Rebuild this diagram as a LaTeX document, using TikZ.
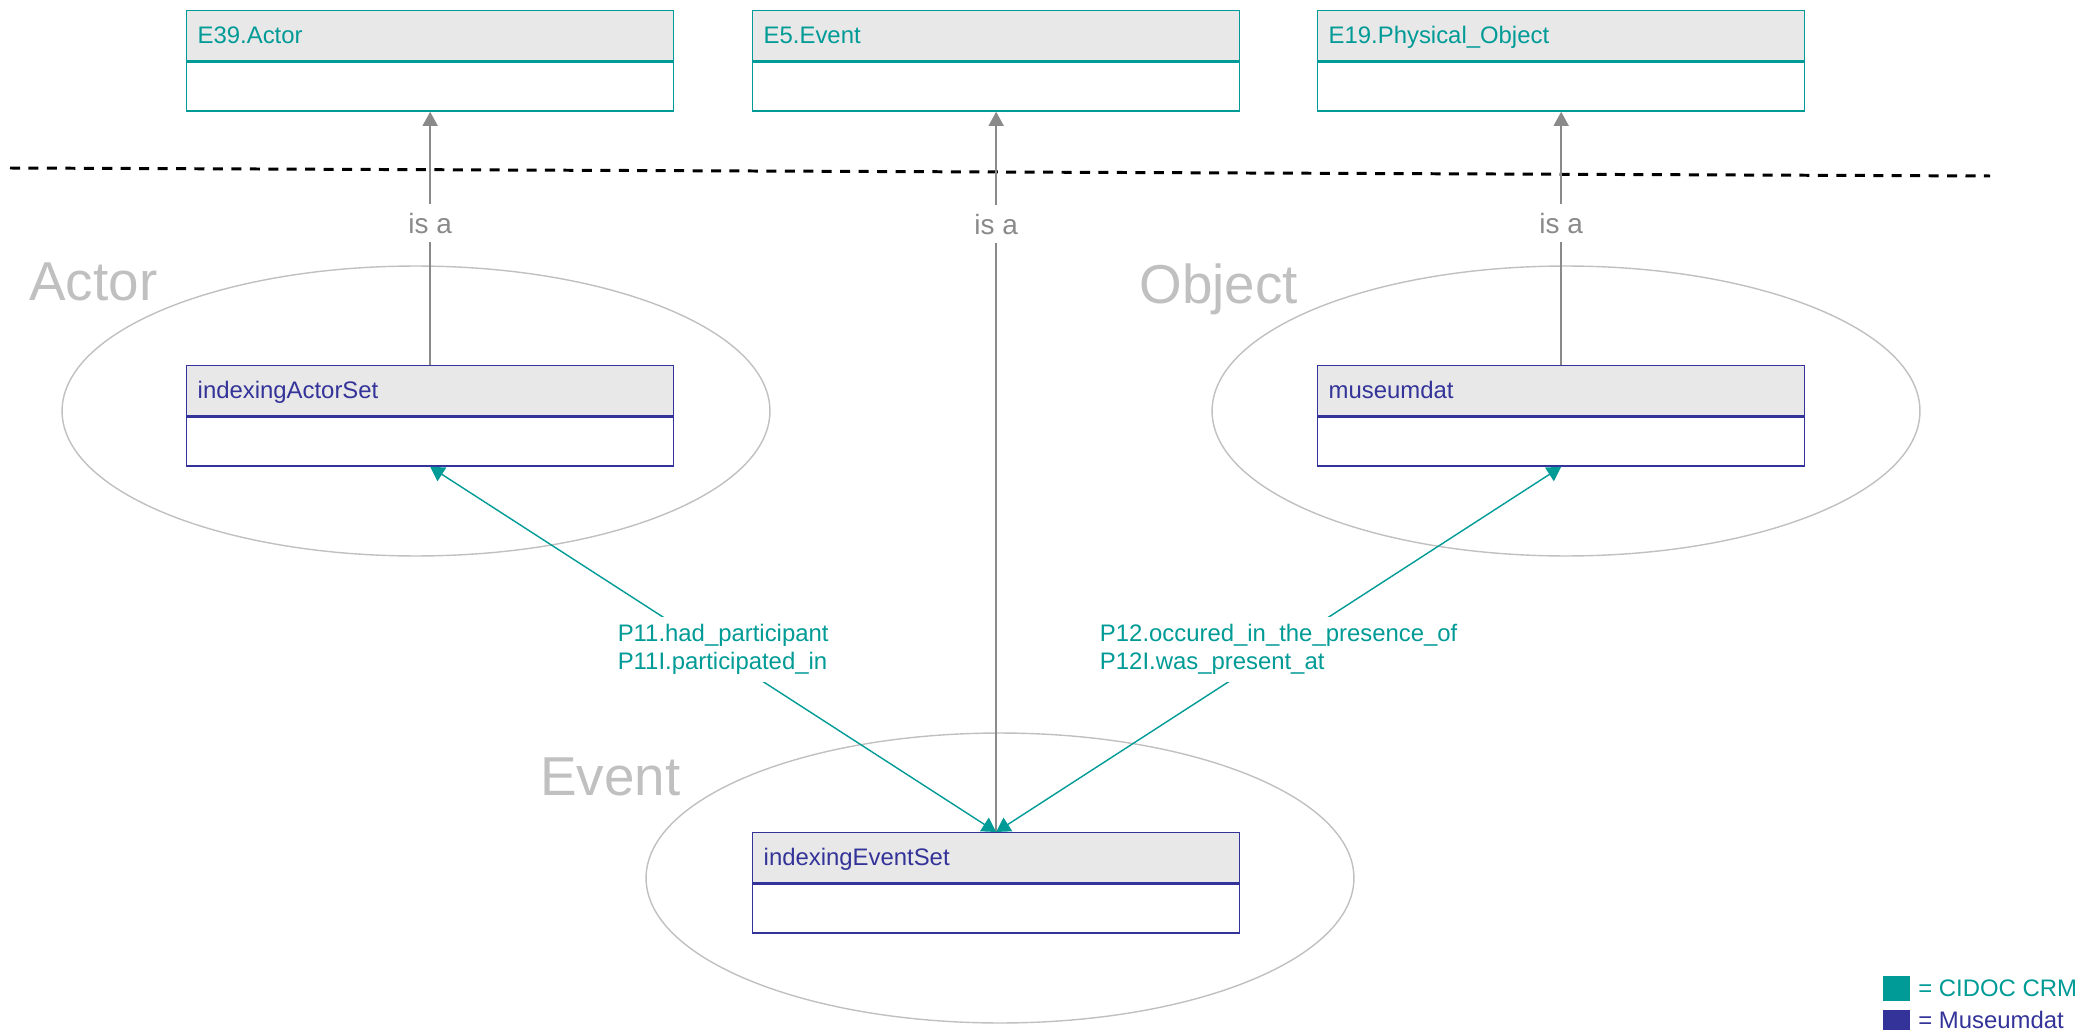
\documentclass[tikz,border=0pt]{standalone}
\usepackage{fontspec}
\setmainfont{Liberation Sans}
\usepackage{xcolor}
\usetikzlibrary{shapes.geometric}
\usetikzlibrary{arrows.meta}
\usetikzlibrary{positioning}

\definecolor{crmteal}{RGB}{0,155,150}
\definecolor{mdblue}{RGB}{51,51,153}
\definecolor{headgray}{RGB}{232,232,232}
\definecolor{isagray}{RGB}{138,138,138}
\definecolor{zonegray}{RGB}{192,192,192}

\tikzset{
    classhead/.style = {draw, fill = headgray, anchor = north west, minimum height = 1cm,
        text width = 9.30cm, inner xsep = 0.22cm, align = left, line width = 0.8pt,
        text height = 0.9em, text depth = 0.06em, font = \fontsize{13.6}{16}\selectfont},
    classbody/.style = {draw, fill = white, minimum width = 9.74cm, minimum height = 0.98cm,
        inner sep = 0pt, line width = 0.8pt},
    crmclass/.style = {draw = crmteal, text = crmteal},
    mdclass/.style = {draw = mdblue, text = mdblue},
    isa/.style = {draw = isagray, line width = 0.8pt, -{Triangle[length = 0.28cm, width = 0.3cm]}},
    isalabel/.style = {fill = white, text = isagray, inner xsep = 2pt, inner ysep = 0.17cm,
        font = \fontsize{15.9}{18}\selectfont},
    prop/.style = {draw = crmteal, line width = 0.8pt,
        {Triangle[length = 0.28cm, width = 0.32cm]}-{Triangle[length = 0.28cm, width = 0.32cm]}},
    proplabel/.style = {fill = white, text = crmteal, align = left, inner sep = 0.14cm,
        font = \fontsize{13.6}{15.9}\selectfont},
    zone/.style = {ellipse, draw = zonegray, line width = 0.8pt, minimum width = 14.16cm,
        minimum height = 5.8cm, inner sep = 0pt},
    zonelabel/.style = {text = zonegray, anchor = base west, inner sep = 0pt,
        font = \fontsize{31.2}{36}\selectfont},
    keybox/.style = {anchor = north west, minimum width = 0.54cm, minimum height = 0.5cm, inner sep = 0pt},
    keytext/.style = {anchor = base west, inner sep = 0pt, font = \fontsize{13.6}{16}\selectfont}
}

\begin{document}
\begin{tikzpicture}[x = 0.02cm, y = -0.02cm]
        \useasboundingbox (0, 0) rectangle (2084, 1030);

        \node[zone] (actorzone) at (416, 411) {};
        \node[zone] (objectzone) at (1566, 411) {};
        \node[zone] (eventzone) at (1000, 878) {};
        \node[zonelabel] (actorname) at (29, 300) {Actor};
        \node[zonelabel] (objectname) at (1139, 303) {Object};
        \node[zonelabel] (eventname) at (540, 795) {Event};

        \draw[line width = 1.7pt, dash pattern = on 5.7pt off 4.8pt] (10, 168) -- (1990, 176);

        \node[classhead, crmclass] (e39) at (186, 10) {E39.Actor};
        \node[classbody, crmclass, below = 0pt of e39] (e39b) {};
        \node[classhead, crmclass] (e5) at (752, 10) {E5.Event};
        \node[classbody, crmclass, below = 0pt of e5] (e5b) {};
        \node[classhead, crmclass] (e19) at (1317, 10) {E19.Physical\_Object};
        \node[classbody, crmclass, below = 0pt of e19] (e19b) {};

        \node[classhead, mdclass] (ias) at (186, 365) {indexingActorSet};
        \node[classbody, mdclass, below = 0pt of ias] (iasb) {};
        \node[classhead, mdclass] (mus) at (1317, 365) {museumdat};
        \node[classbody, mdclass, below = 0pt of mus] (musb) {};
        \node[classhead, mdclass] (ies) at (752, 832) {indexingEventSet};
        \node[classbody, mdclass, below = 0pt of ies] (iesb) {};

        \draw[isa] (ias.north) -- node[isalabel, pos = 0.56] {is a} (e39b.south);
        \draw[isa] (ies.north) -- node[isalabel, pos = 0.844] {is a} (e5b.south);
        \draw[isa] (mus.north) -- node[isalabel, pos = 0.56] {is a} (e19b.south);

        \draw[prop] (iasb.south) -- node[proplabel, xshift = 0.2cm]
            {P11.had\_participant\\P11I.participated\_in} (ies.north);
        \draw[prop] (musb.south) -- node[proplabel]
            {P12.occured\_in\_the\_presence\_of\\P12I.was\_present\_at} (ies.north);

        \node[keybox, fill = crmteal] (crmkey) at (1883, 976) {};
        \node[keytext, text = crmteal] (crmkeytext) at (1918, 996) {= CIDOC CRM};
        \node[keybox, fill = mdblue] (mdkey) at (1883, 1010) {};
        \node[keytext, text = mdblue] (mdkeytext) at (1918, 1028) {= Museumdat};
    \end{tikzpicture}
\end{document}
